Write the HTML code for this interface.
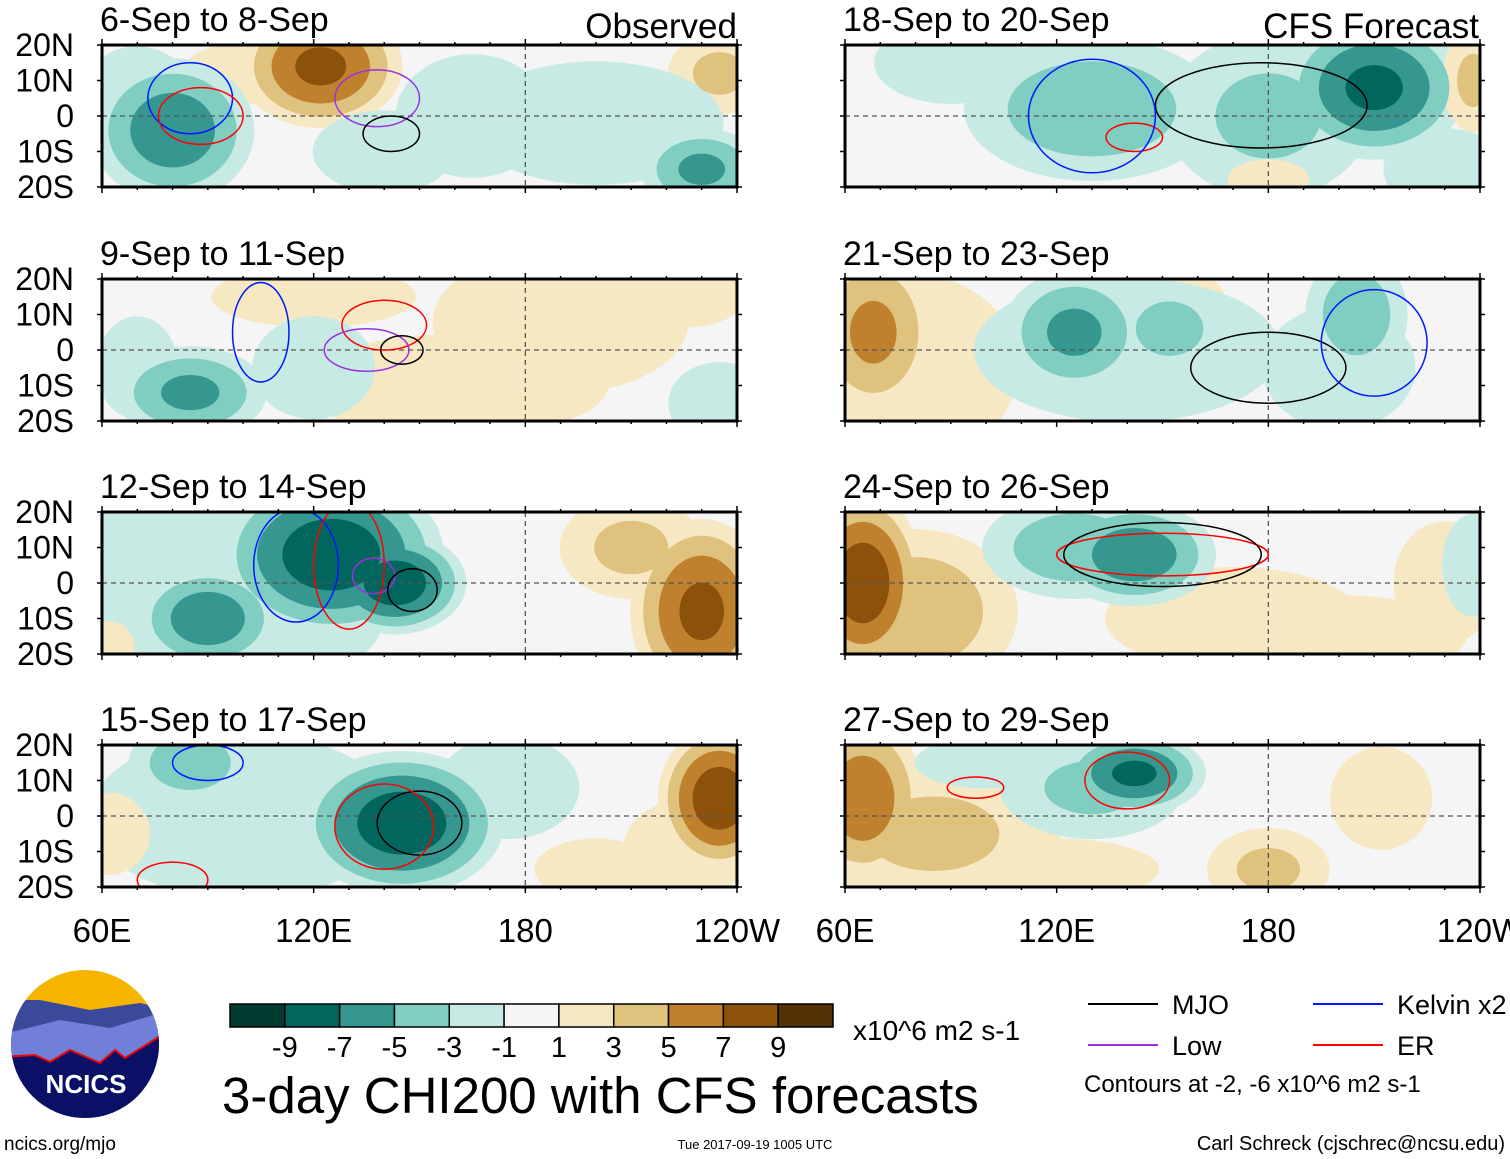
<!DOCTYPE html>
<html><head><meta charset="utf-8"><style>
body{margin:0;background:#fff;width:1510px;height:1159px;overflow:hidden;font-family:"Liberation Sans",sans-serif}
svg{position:absolute;left:0;top:0}
</style></head><body>
<svg id="c" width="1510" height="1159"></svg>
<script>
const NS="http://www.w3.org/2000/svg";
const titles=["6-Sep to 8-Sep","9-Sep to 11-Sep","12-Sep to 14-Sep","15-Sep to 17-Sep","18-Sep to 20-Sep","21-Sep to 23-Sep","24-Sep to 26-Sep","27-Sep to 29-Sep"];
const latTicks=["20N","10N","0","10S","20S"];
const lonTicks=["60E","120E","180","120W"];
const levels=[1,3,5,7,9];
const cbLabels=["-9","-7","-5","-3","-1","1","3","5","7","9"];
const negColors=["#c7eae5","#80cdc1","#35978f","#01665e","#003c30"];
const posColors=["#f6e8c3","#dfc27d","#bf812d","#8c510a","#543005"];
// blobs: [lon, lat, peak value, rx deg, ry deg]
const blobs0=[[122,14,8,16,12],[235,12,4,10,8],[100,12,2,12,6],[80,-4,-7,16,14],[70,8,-3,10,8],[200,-2,-3,25,12],[230,-15,-6,12,8],[165,0,-2,15,12],[140,-10,-2,14,8]];
const blobs1=[[190,8,3,25,14],[120,15,3,20,6],[225,15,2,12,6],[160,-10,2,30,10],[85,-12,-6,15,9],[235,-15,-3,10,8],[120,-5,-2,12,10],[70,-5,-2,8,10]];
const blobs2=[[80,5,-3,25,20],[110,-12,-3,20,10],[125,8,-9,22,16],[143,0,-9,14,10],[90,-10,-7,14,10],[230,-8,8,14,18],[210,10,4,14,10],[62,-18,2,5,5]];
const blobs3=[[100,0,-3,30,16],[145,-2,-9,20,14],[85,15,-5,12,8],[175,8,-3,14,10],[235,5,9,12,14],[225,-10,3,12,10],[62,-5,3,8,8],[200,-15,2,12,6]];
const blobs4=[[130,2,-5,25,14],[180,0,-4,20,16],[210,8,-8,18,14],[90,15,-3,15,8],[230,-15,-3,12,8],[238,10,4,6,10],[180,-18,2,8,4]];
const blobs5=[[68,5,6,12,16],[80,-5,2,20,18],[150,15,2,12,6],[140,0,-3,30,14],[125,5,-6,14,12],[152,6,-5,10,8],[205,10,-5,10,12],[200,-5,-3,15,12]];
const blobs6=[[65,0,9,12,18],[80,-8,5,20,16],[170,-10,2,25,10],[200,-15,2,25,8],[230,0,1.5,10,12],[125,10,-5,18,10],[142,8,-7,16,10],[238,5,-3,6,10]];
const blobs7=[[65,5,7,12,16],[85,-5,4,25,14],[120,-15,3,20,6],[180,-15,4,12,8],[212,5,3,10,10],[130,8,-4,18,10],[142,12,-8,14,8],[100,15,-2,14,5]];
const allBlobs=[blobs0,blobs1,blobs2,blobs3,blobs4,blobs5,blobs6,blobs7];
// contours: [type, lon, lat, rx, ry]
const lines0=[["l",138,5,12,8],["m",142,-5,8,5],["k",85,5,12,10],["e",88,0,12,8]];
const lines1=[["e",140,7,12,7],["l",135,0,12,6],["m",145,0,6,4],["k",105,5,8,14]];
const lines2=[["l",137,2,6,5],["m",148,-2,7,6],["k",115,5,12,16],["e",130,5,10,18]];
const lines3=[["m",150,-2,12,9],["e",140,-3,14,12],["k",90,15,10,5],["e",80,-18,10,5]];
const lines4=[["m",178,3,30,12],["e",142,-6,8,4],["k",130,0,18,16]];
const lines5=[["m",180,-5,22,10],["k",210,2,15,15]];
const lines6=[["e",150,8,30,6],["m",150,8,28,9]];
const lines7=[["e",140,10,12,8],["e",97,8,8,3]];
const allLines=[lines0,lines1,lines2,lines3,lines4,lines5,lines6,lines7];
const lineColor={m:"#000",k:"#0018ff",l:"#9b30e0",e:"#ff0000"};

const svg=document.getElementById('c');
function el(t,a,p){const e=document.createElementNS(NS,t);for(const k in a)e.setAttribute(k,a[k]);(p||svg).appendChild(e);return e;}
const W=635,H=142,lefts=[102,845],tops=[45,279,512,745];
const GROW=1.45;
for(let p=0;p<8;p++){
  const x0=lefts[p<4?0:1],y0=tops[p%4];
  const X=lon=>x0+(lon-60)/180*W, Y=lat=>y0+(20-lat)/40*H;
  const g=el('g',{});
  
  
  const cid='clip'+p;
  const cp=el('clipPath',{id:cid},g);el('rect',{x:x0,y:y0,width:W,height:H},cp);
  const f=el('g',{'clip-path':'url(#'+cid+')'},g);
  el('rect',{x:x0,y:y0,width:W,height:H,fill:'#f5f5f5'},f);
  for(let li=0;li<levels.length;li++){
    for(const b of allBlobs[p]){
      const a=Math.abs(b[2]);if(levels[li]>=a)continue;
      const s=GROW*Math.pow((1-levels[li]/a)/(1-1/a),0.6);
      const e=el('ellipse',{cx:X(b[0]),cy:Y(b[1]),rx:b[3]*s*W/180,ry:b[4]*s*H/40,fill:b[2]<0?negColors[li]:posColors[li]},f);
      
      
    }
  }
  el('line',{x1:x0,x2:x0+W,y1:Y(0),y2:Y(0),stroke:'#555','stroke-width':1.3,'stroke-dasharray':'5,4'},f);
  el('line',{x1:X(180),x2:X(180),y1:y0,y2:y0+H,stroke:'#555','stroke-width':1.3,'stroke-dasharray':'5,4'},f);
  for(const l of allLines[p]){
    const e=el('ellipse',{cx:X(l[1]),cy:Y(l[2]),rx:l[3]*W/180,ry:l[4]*H/40,fill:'none',stroke:lineColor[l[0]],'stroke-width':1.5},f);
    
    
  }
  el('rect',{x:x0,y:y0,width:W,height:H,fill:'none',stroke:'#000','stroke-width':3},g);
  for(let lon=60;lon<=240;lon+=10){const L=lon%60==0?6:3;
    el('line',{x1:X(lon),x2:X(lon),y1:y0-L,y2:y0,stroke:'#000','stroke-width':1.5},g);
    el('line',{x1:X(lon),x2:X(lon),y1:y0+H,y2:y0+H+L,stroke:'#000','stroke-width':1.5},g);}
  for(let lat=-20;lat<=20;lat+=10){el('line',{x1:x0+W,x2:x0+W+5,y1:Y(lat),y2:Y(lat),stroke:'#000','stroke-width':1.5},g);
    el('line',{x1:x0-5,x2:x0,y1:Y(lat),y2:Y(lat),stroke:'#000','stroke-width':1.5},g);}
  const t=el('text',{x:x0-2,y:y0-14,'font-size':34},g);t.textContent=titles[p];
  
  if(p<4){latTicks.forEach((s,i)=>{const tt=el('text',{x:74,y:y0+i*H/4+11,'font-size':32,'text-anchor':'end'},g);tt.textContent=s;
    });}
}
[["Observed",737],["CFS Forecast",1479]].forEach(([s,x])=>{const t=el('text',{x:x,y:38,'font-size':35,'text-anchor':'end'});t.textContent=s;
  });
[102,845].forEach(x0=>lonTicks.forEach((s,i)=>{const t=el('text',{x:x0+i*W/3,y:942,'font-size':33,'text-anchor':'middle'});t.textContent=s;
  }));
const boxes=negColors.slice().reverse().concat(["#f5f5f5"],posColors);
const bw=603/11;
const cb=el('g',{});
boxes.forEach((c,i)=>el('rect',{x:230+i*bw,y:1004,width:bw,height:23,fill:c,stroke:'#000','stroke-width':1.5},cb));
cbLabels.forEach((s,i)=>{const t=el('text',{x:230+(i+1)*bw,y:1057,'font-size':29,'text-anchor':'middle'},cb);t.textContent=s;});
const u=el('text',{x:853,y:1040,'font-size':28});u.textContent="x10^6 m2 s-1";

const mt=el('text',{x:222,y:1113,'font-size':51});mt.textContent="3-day CHI200 with CFS forecasts";

const lg=el('g',{});
[["MJO","#000",1088,1004],["Kelvin x2","#0018ff",1313,1004],["Low","#9b30e0",1088,1045],["ER","#ff0000",1313,1045]].forEach(([s,c,x,y])=>{
  el('line',{x1:x,x2:x+70,y1:y,y2:y,stroke:c,'stroke-width':2},lg);
  const t=el('text',{x:x+84,y:y+10,'font-size':27},lg);t.textContent=s;});
const ct=el('text',{x:1084,y:1092,'font-size':24});ct.textContent="Contours at -2, -6 x10^6 m2 s-1";

const lo=el('g',{});
const lc=el('clipPath',{id:'lc'},lo);el('circle',{cx:85,cy:1044,r:74},lc);
const li=el('g',{'clip-path':'url(#lc)'},lo);
el('rect',{x:0,y:960,width:170,height:170,fill:'#f4b400'},li);
el('path',{d:'M0 1000 L40 1000 L90 1010 L140 1003 L170 1010 L170 1130 L0 1130Z',fill:'#3a4a9a'},li);
el('path',{d:'M0 1035 L60 1020 L110 1028 L170 1010 L170 1130 L0 1130Z',fill:'#7080d8'},li);
el('path',{d:'M0 1057 L35 1055 L50 1062 L70 1050 L100 1063 L115 1050 L125 1058 L170 1030 L170 1130 L0 1130Z',fill:'#0a1066',stroke:'#e00','stroke-width':2},li);
const nt=el('text',{x:86,y:1093,'font-size':26,'font-weight':'bold',fill:'#fff','text-anchor':'middle'},lo);nt.textContent="NCICS";
[["ncics.org/mjo",4,1150,19,"start","footer-url"],["Tue 2017-09-19 1005 UTC",755,1149,13,"middle","timestamp"],["Carl Schreck (cjschrec@ncsu.edu)",1505,1150,20,"end","author-credit"]].forEach(([s,x,y,fs,a,n])=>{
  const t=el('text',{x:x,y:y,'font-size':fs,'text-anchor':a});t.textContent=s;
  });
</script>
</body></html>
